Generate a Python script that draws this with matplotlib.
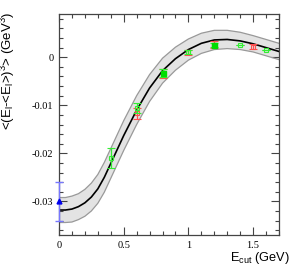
import numpy as np
import matplotlib.pyplot as plt
from matplotlib.ticker import MultipleLocator

plt.rcParams['mathtext.fontset'] = 'custom'
plt.rcParams['mathtext.rm'] = 'Liberation Sans'
plt.rcParams['mathtext.it'] = 'Liberation Sans'

# fitted curve and its uncertainty band
curve_x = [0.0, 0.05, 0.1, 0.15, 0.2, 0.25, 0.3, 0.35, 0.4, 0.45, 0.5, 0.6, 0.7, 0.8, 0.9,
           1.0, 1.1, 1.2, 1.3, 1.4, 1.5, 1.6, 1.7]
curve_y = [-0.0318, -0.0318, -0.0316, -0.0311, -0.0303, -0.0291, -0.0274, -0.0250, -0.0221,
           -0.0192, -0.0163, -0.0110, -0.0064, -0.0028, -0.0003,
           0.0016, 0.0029, 0.0036, 0.0037, 0.0034, 0.0028, 0.0020, 0.0012]
band_err = [0.0026, 0.0026, 0.0027, 0.0027, 0.0028, 0.0029, 0.0030, 0.0031, 0.0031,
            0.0031, 0.0031, 0.0030, 0.0028, 0.0026, 0.0024,
            0.0022, 0.0021, 0.0020, 0.0019, 0.0018, 0.0017, 0.0017, 0.0017]

# measurements
blue_x, blue_y, blue_err = [0.0], [-0.0300], [0.0040]
green_open_x = [0.4, 0.6, 1.0, 1.4, 1.6]
green_open_y = [-0.0210, -0.0106, 0.0011, 0.0025, 0.0015]
green_open_err = [0.0021, 0.0011, 0.0004, 0.0, 0.0]
red_x = [0.6, 0.8, 1.0, 1.2, 1.5]
red_y = [-0.0117, -0.0034, 0.0010, 0.0026, 0.0022]
red_err = [0.0011, 0.0010, 0.0006, 0.0007, 0.0005]
green_fill_x = [0.8, 1.2]
green_fill_y = [-0.0033, 0.0026]
green_fill_err = [0.0008, 0.0004]

fig = plt.figure(figsize=(2.94, 2.8), dpi=100)
ax = fig.add_axes([59 / 294, 1 - 235 / 280, 220 / 294, 221 / 280])

cx = np.array(curve_x)
cy = np.array(curve_y)
ce = np.array(band_err)
ax.fill_between(cx, cy - ce, cy + ce, facecolor='#e3e3e3', edgecolor='none', zorder=1)
ax.plot(cx, cy + ce, color='#999999', lw=0.9, zorder=2)
ax.plot(cx, cy - ce, color='#999999', lw=0.9, zorder=2)
ax.plot(cx, cy, color='black', lw=1.2, zorder=3)

red = '#ff5050'
green = '#33ee33'
ax.errorbar(red_x, red_y, yerr=red_err, fmt='s', ms=3.2, mfc='none', mec=red,
            ecolor=red, elinewidth=0.9, capsize=3, capthick=0.9, mew=0.8, zorder=4)
ax.errorbar(green_open_x, green_open_y, yerr=green_open_err, fmt='s', ms=3.2, mfc='none',
            mec=green, ecolor=green, elinewidth=0.9, capsize=3, capthick=0.9, mew=0.8, zorder=5)
ax.errorbar(green_fill_x, green_fill_y, yerr=green_fill_err, fmt='s', ms=3.6, mfc='#00dd00',
            mec='#00dd00', ecolor=green, elinewidth=0.9, capsize=3, capthick=0.9, zorder=6)
ax.errorbar(blue_x, blue_y, yerr=blue_err, fmt='^', ms=3.5, mfc='#0000ee', mec='#0000ee',
            ecolor='#7777ff', elinewidth=1.0, capsize=3, capthick=1.0, zorder=7, clip_on=False)

ax.set_xlim(0, 1.7)
ax.set_ylim(-0.037, 0.009)
ax.xaxis.set_minor_locator(MultipleLocator(0.1))
ax.yaxis.set_minor_locator(MultipleLocator(0.002))
ax.set_xticks([0, 0.5, 1, 1.5])
ax.set_xticklabels(['0', '0.5', '1', '1.5'])
ax.set_yticks([-0.03, -0.02, -0.01, 0])
ax.set_yticklabels(['-0.03', '-0.02', '-0.01', '0'])
ax.tick_params(which='both', direction='in', top=True, right=True, color='#444444', width=0.8,
               labelsize=7.5, labelfontfamily='Liberation Serif', pad=4)
ax.tick_params(which='major', length=6)
ax.tick_params(which='minor', length=3)
for s in ax.spines.values():
    s.set_color('#444444')
    s.set_linewidth(0.9)

fig.text(290 / 294, 1 - 258 / 280, r'E$_{\rm cut}$ (GeV)', ha='right', va='center',
         fontsize=9.2, family='Liberation Sans')
fig.text(8 / 294, 1 - 12 / 280, r'<(E$_{\rm l}$-<E$_{\rm l}$>)$^{3}$> (GeV$^{3}$)', rotation=90,
         ha='center', va='top', fontsize=9.5, family='Liberation Sans')

fig.savefig('out.png', dpi=100)
